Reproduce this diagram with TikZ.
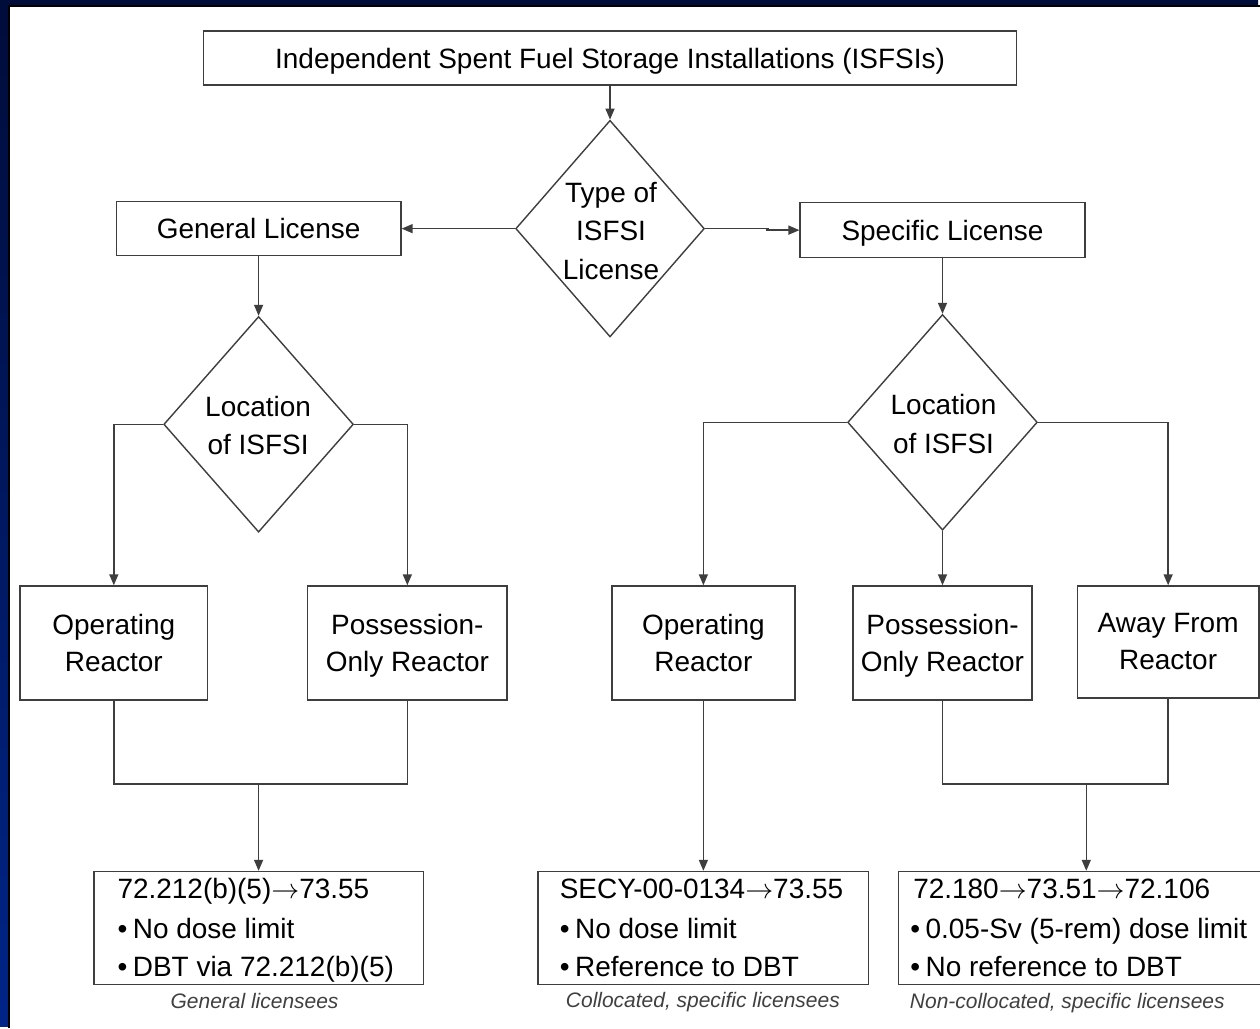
\RequirePackage{fix-cm}
\documentclass[tikz,border=0pt]{standalone}
\usepackage{fontspec}
\setmainfont{Liberation Sans}
\usetikzlibrary{shapes.geometric,arrows.meta,calc}
\definecolor{ln}{RGB}{62,62,62}
\definecolor{navtop}{RGB}{0,12,58}
\definecolor{navbot}{RGB}{0,36,135}
\newcommand{\arw}{$\rightarrow$}
\newcommand{\bul}{•\hspace{0.2em}}
\begin{document}
\begin{tikzpicture}[x=1pt,y=-1pt,
  box/.style={draw=ln,line width=1.6pt,rectangle,inner sep=0pt,font=\fontsize{28}{37}\selectfont,align=center},
  one/.style={text height=20.4pt,text depth=0pt},
  dia/.style={draw=ln,line width=1.4pt,diamond,inner sep=0pt},
  dtext/.style={font=\fontsize{28}{38.5}\selectfont,align=center,inner sep=0pt},
  line/.style={draw=ln,line width=1.5pt},
  arr/.style={line,-{Triangle[length=11pt,width=9pt]}},
  ltxt/.style={font=\fontsize{28}{38}\selectfont,anchor=base west,inner sep=0pt},
  capt/.style={font=\fontsize{21}{25}\selectfont\itshape,text=black!75,anchor=base,inner sep=0pt}
]
% background
\fill[top color=navtop,bottom color=navbot] (0,0) rectangle (1260,1028);
\fill[black] (8,5) rectangle (1262,1030);
\fill[white] (10,7) rectangle (1262,1030);
\useasboundingbox (0,0) rectangle (1260,1028);

% nodes
\node[box,one,minimum width=814pt,minimum height=54pt] (top) at (611,58) {Independent Spent Fuel Storage Installations (ISFSIs)};

\node[dia,minimum width=189pt,minimum height=217pt] (d1) at (611,229) {};
\node[dtext] (d1t) at (612,231) {Type of\\ISFSI\\License};

\node[box,one,minimum width=285pt,minimum height=54pt] (gen) at (259,229) {General License};
\node[box,one,minimum width=285pt,minimum height=55pt] (spec) at (944,230.5) {Specific License};

\node[dia,minimum width=190pt,minimum height=216pt] (d2) at (259,425) {};
\node[dtext] (d2t) at (258.5,426) {Location\\of ISFSI};
\node[dia,minimum width=190pt,minimum height=216pt] (d3) at (944,423) {};
\node[dtext] (d3t) at (945,424.5) {Location\\of ISFSI};

\node[box,minimum width=188pt,minimum height=114pt] (opL) at (114,644) {Operating\\Reactor};
\node[box,minimum width=200pt,minimum height=114pt] (poL) at (408,644) {Possession-\\\smash{Only Reactor}};
\node[box,minimum width=183pt,minimum height=114pt] (opR) at (704.5,644) {Operating\\Reactor};
\node[box,minimum width=179pt,minimum height=114pt] (poR) at (944,644) {Possession-\\\smash{Only Reactor}};
\node[box,minimum width=182pt,minimum height=112pt] (aw) at (1170,643) {Away From\\Reactor};

\node[box,minimum width=330pt,minimum height=113pt] (bL) at (259,929.5) {};
\node[box,minimum width=331pt,minimum height=113pt] (bM) at (704.5,929.5) {};
\node[box,minimum width=376pt,minimum height=113pt] (bR) at (1088,929.5) {};

\node[ltxt] (bL1) at (117.5,900) {72.212(b)(5)\arw73.55};
\node[ltxt] (bL2) at (117.5,939.5) {\bul No dose limit};
\node[ltxt] (bL3) at (117.5,978) {\bul DBT via 72.212(b)(5)};

\node[ltxt] (bM1) at (560.5,900) {SECY-00-0134\arw73.55};
\node[ltxt] (bM2) at (560.5,939.5) {\bul No dose limit};
\node[ltxt] (bM3) at (560.5,978) {\bul Reference to DBT};

\node[ltxt] (bR1) at (914.5,900) {72.180\arw73.51\arw72.106};
\node[ltxt] (bR2) at (911.5,939.5) {\bul 0.05-Sv (5-rem) dose limit};
\node[ltxt] (bR3) at (911.5,978) {\bul No reference to DBT};

\node[capt] (cL) at (255,1010) {General licensees};
\node[capt] (cM) at (704,1009.5) {Collocated, specific licensees};
\node[capt] (cR) at (1069,1010.5) {Non-collocated, specific licensees};

% connectors
\draw[arr] (top.south) -- (d1.north);
\draw[arr] (d1.west) -- (gen.east);
\coordinate (j1) at (770,229);
\coordinate (j2) at (767,230.5);
\draw[line] (d1.east) -- (j1);
\draw[arr] (j2) -- (spec.west);

\draw[arr] (gen.south) -- (d2.north);
\draw[arr] (d2.west) -| (opL.north);
\draw[arr] (d2.east) -| (poL.north);
\coordinate (mL) at (bL.north |- 0,785);
\draw[line] (opL.south) |- (mL) -| (poL.south);
\draw[arr] (mL) -- (bL.north);

\draw[arr] (spec.south) -- (d3.north);
\draw[arr] (d3.west) -| (opR.north);
\draw[arr] (d3.south) -- (poR.north);
\draw[arr] (d3.east) -| (aw.north);
\draw[arr] (opR.south) -- (bM.north);
\coordinate (mR) at (bR.north |- 0,785);
\draw[line] (poR.south) |- (mR) -| (aw.south);
\draw[arr] (mR) -- (bR.north);
\end{tikzpicture}
\end{document}
